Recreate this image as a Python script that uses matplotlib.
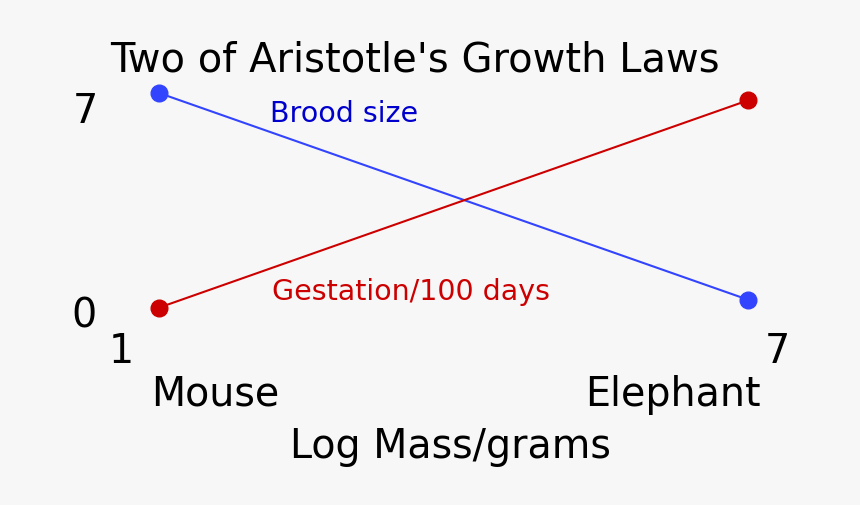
import matplotlib
matplotlib.use("Agg")
import matplotlib.pyplot as plt

plt.rcParams['font.family'] = "DejaVu Sans"

# log mass (grams): mouse, elephant
log_mass = [1, 7]
animals = ["Mouse", "Elephant"]
brood_size = [7.55, 0.49]
gestation = [0.22, 7.3]   # in units of 100 days

bg = "#f7f7f7"
fig = plt.figure(figsize=(8.6, 5.06), dpi=100, facecolor=bg)
ax = fig.add_axes([0, 0, 1, 1])
ax.set_facecolor(bg)
ax.set_xlim(-0.62, 8.14)
ax.set_ylim(-6.52, 10.76)
ax.axis("off")

ax.plot(log_mass, brood_size, color="#3344ff", lw=1.5, marker="o", ms=12)
ax.plot(log_mass, gestation, color="#cc0000", lw=1.5, marker="o", ms=12)

ax.text(2.13, 6.85, "Brood size", color="#0000cc", fontsize=20.5, va="center")
ax.text(2.15, 0.8, "Gestation/100 days", color="#cc0000", fontsize=20.5, va="center")

fig.text(415 / 860, 1 - 60 / 506, "Two of Aristotle's Growth Laws", fontsize=28.8,
         ha="center", va="center")
fig.text(85 / 860, 1 - 112 / 506, "7", fontsize=28.5, ha="center", va="center")
fig.text(84 / 860, 1 - 317 / 506, "0", fontsize=28.5, ha="center", va="center")
fig.text(121 / 860, 1 - 352 / 506, "1", fontsize=28.5, ha="center", va="center")
fig.text(777 / 860, 1 - 352 / 506, "7", fontsize=28.5, ha="center", va="center")
fig.text(215 / 860, 1 - 395 / 506, animals[0], fontsize=28.5, ha="center", va="center")
fig.text(673 / 860, 1 - 395 / 506, animals[1], fontsize=28.5, ha="center", va="center")
fig.text(450 / 860, 1 - 447 / 506, "Log Mass/grams", fontsize=28.5, ha="center", va="center")

fig.savefig("out.png", dpi=100, facecolor=bg)
